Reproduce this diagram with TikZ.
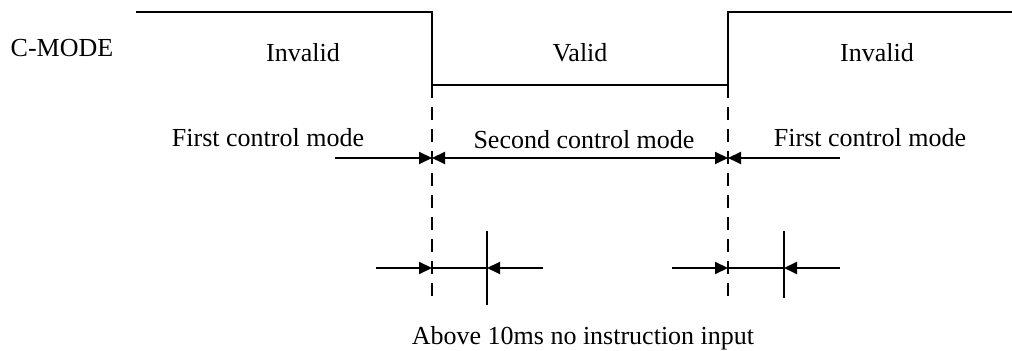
\documentclass[tikz,border=0pt]{standalone}
\usepackage{fontspec}
\setmainfont{Liberation Serif}
\usetikzlibrary{positioning}
\usetikzlibrary{arrows.meta}
\tikzset{sig/.style = {line width=1pt}}
\tikzset{cut/.style = {line width=1pt, dash pattern=on 6.5pt off 4.5pt}}
\tikzset{tip/.style = {line width=1pt, -{Triangle[length=6.5pt,width=6pt]}}}
\tikzset{both/.style = {line width=1pt, {Triangle[length=6.5pt,width=6pt]}-{Triangle[length=6.5pt,width=6pt]}}}
\tikzset{lbl/.style = {font=\fontsize{13}{15}\selectfont, inner sep=0pt, anchor=base}}

\begin{document}
\begin{tikzpicture}[x=0.5pt, y=-0.5pt]
          \useasboundingbox (0,0) rectangle (1012,351);
          % signal edges
          \coordinate (h0) at (136,12);
          \coordinate (e1) at (432,12);
          \coordinate (e1b) at (432,85);
          \coordinate (e2b) at (728,85);
          \coordinate (e2) at (728,12);
          \coordinate (h1) at (1012,12);
          \draw[sig] (h0) -- (e1) -- (e1b) -- (e2b) -- (e2) -- (h1);
          \coordinate (d1) at (432,305);
          \coordinate (d2) at (728,305);
          \draw[cut] (e1b) -- (d1);
          \draw[cut] (e2b) -- (d2);
          % labels
          \node[lbl] (cmode) at (62,57) {C-MODE};
          \node[lbl] (invA) at (303,62) {Invalid};
          \node[lbl] (valid) at (580,62) {Valid};
          \node[lbl] (invB) at (877,62) {Invalid};
          \node[lbl] (firstL) at (268,147) {First control mode};
          \node[lbl] (second) at (584,149) {Second control mode};
          \node[lbl] (firstR) at (870,147) {First control mode};
          \node[lbl] (note) at (583,345) {Above 10ms no instruction input};
          % mode arrows
          \coordinate (m0) at (335,158);
          \coordinate (m1) at (432,158);
          \coordinate (m2) at (728,158);
          \coordinate (m3) at (840,158);
          \draw[tip] (m0) -- (m1);
          \draw[both] (m1) -- (m2);
          \draw[tip] (m3) -- (m2);
          % 10ms gaps
          \coordinate (a0) at (376,268);
          \coordinate (a1) at (432,268);
          \coordinate (a2) at (487,268);
          \coordinate (a3) at (543,268);
          \coordinate (ka) at (487,231);
          \coordinate (kb) at (487,305);
          \draw[sig] (ka) -- (kb);
          \draw[tip] (a0) -- (a1);
          \draw[sig] (a1) -- (a2);
          \draw[tip] (a3) -- (a2);
          \coordinate (b0) at (672,268);
          \coordinate (b1) at (728,268);
          \coordinate (b2) at (784,268);
          \coordinate (b3) at (840,268);
          \coordinate (kc) at (784,231);
          \coordinate (kd) at (784,298);
          \draw[sig] (kc) -- (kd);
          \draw[tip] (b0) -- (b1);
          \draw[sig] (b1) -- (b2);
          \draw[tip] (b3) -- (b2);
        \end{tikzpicture}
\end{document}
